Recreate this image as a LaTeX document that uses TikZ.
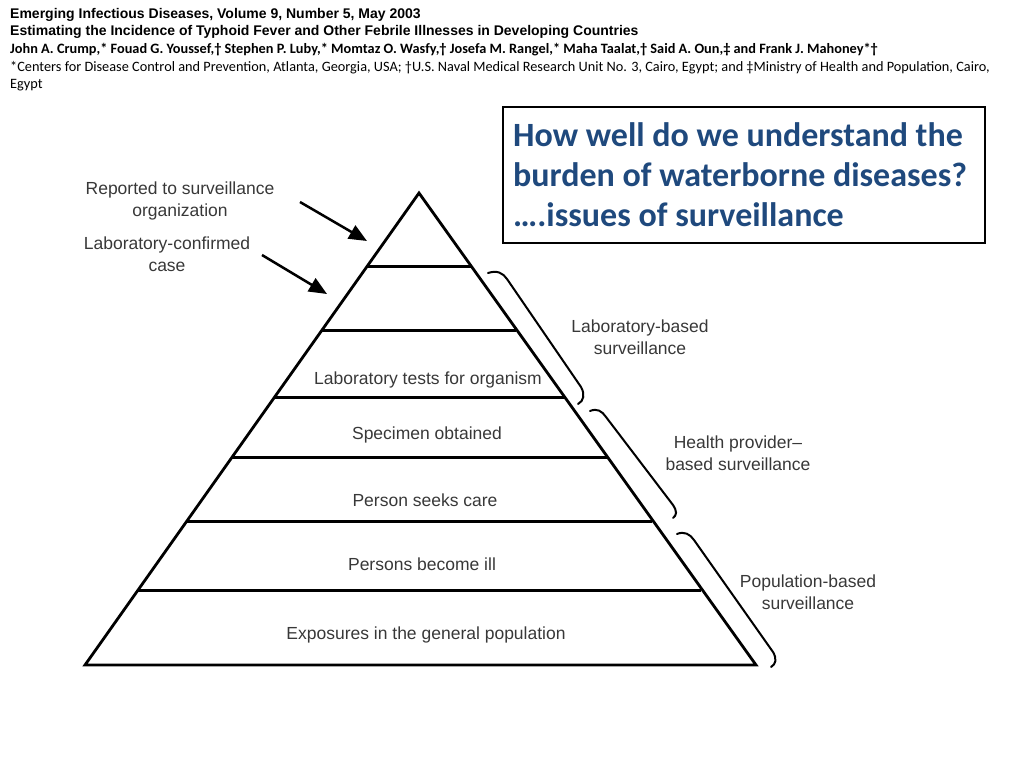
\documentclass[tikz,border=0pt]{standalone}
\usepackage{fontspec}
\setmainfont{Liberation Sans}
\newfontfamily\calibri{Carlito}
\usetikzlibrary{arrows.meta}
\definecolor{titleblue}{HTML}{1F497D}
\definecolor{labelgrey}{HTML}{383838}
\tikzset{
  head/.style={anchor=base west, inner sep=0pt},
  tier/.style={text=labelgrey, font=\fontsize{17.5}{22}\selectfont},
  side/.style={text=labelgrey, align=center, font=\fontsize{17.5}{22}\selectfont},
  level/.style={line width=3pt},
  pointer/.style={line width=2.5pt, -{Triangle[length=18pt,width=15pt]}},
  bracket/.style={line width=2pt, line cap=round}
}
\begin{document}
\begin{tikzpicture}[x=1pt,y=-1pt]
        \useasboundingbox (0,0) rectangle (1024,768);
        \node[head, font=\bfseries\fontsize{14}{16}\selectfont] (journal) at (10,19) {Emerging Infectious Diseases, Volume 9, Number 5, May 2003};
        \node[head, font=\bfseries\fontsize{14}{16}\selectfont] (article) at (10,36) {Estimating the Incidence of Typhoid Fever and Other Febrile Illnesses in Developing Countries};
        \node[head, font=\calibri\bfseries\fontsize{14.3}{16}\selectfont] (authors) at (10,53) {John A. Crump,* Fouad G. Youssef,† Stephen P. Luby,* Momtaz O. Wasfy,† Josefa M. Rangel,* Maha Taalat,† Said A. Oun,‡ and Frank J. Mahoney*†};
        \node[head, font=\calibri\fontsize{14.3}{16}\selectfont] (affil) at (10,71) {*Centers for Disease Control and Prevention, Atlanta, Georgia, USA; †U.S. Naval Medical Research Unit No. 3, Cairo, Egypt; and ‡Ministry of Health and Population, Cairo,};
        \node[head, font=\calibri\fontsize{14.3}{16}\selectfont] (affil2) at (10,88) {Egypt};

        \node[draw, line width=2pt, minimum width=482pt, minimum height=136pt, anchor=north west] (qbox) at (502,106) {};
        \node[anchor=west, align=left, inner sep=0pt, text=titleblue, font=\calibri\bfseries\fontsize{34}{40}\selectfont] (question) at (513,175) {How well do we understand the\\burden of waterborne diseases?\\….issues of surveillance};

        \coordinate (apex) at (419,193);
        \coordinate (bl) at (85,665);
        \coordinate (br) at (756,665);
        \draw[line width=2.8pt] (apex) -- (br) -- (bl) -- cycle;
        \draw[level] (367,266) -- (471,266);
        \draw[level] (322,330) -- (516,330);
        \draw[level] (275,397) -- (564,397);
        \draw[level] (232,457) -- (607,457);
        \draw[level] (187,521) -- (652,521);
        \draw[level] (138,590) -- (701,590);

        \node[tier] (labtests) at (428,380) {Laboratory tests for organism};
        \node[tier] (specimen) at (427,435) {Specimen obtained};
        \node[tier] (seekscare) at (425,500) {Person seeks care};
        \node[tier] (becomeill) at (422,564) {Persons become ill};
        \node[tier] (exposures) at (426,635) {Exposures in the general population};

        \node[side] (reported) at (180,201) {Reported to surveillance\\organization};
        \node[side] (confirmed) at (167,254) {Laboratory-confirmed\\case};
        \coordinate (reportedtail) at (300,202);
        \coordinate (reportedtip) at (367,241);
        \coordinate (confirmedtail) at (262,255);
        \coordinate (confirmedtip) at (327,294);
        \draw[pointer] (reportedtail) -- (reportedtip);
        \draw[pointer] (confirmedtail) -- (confirmedtip);

        \draw[bracket] (488,273) .. controls (497,270) and (503,273) .. (507,279) -- (581,387) .. controls (585,394) and (584,401) .. (578,404);
        \draw[bracket] (590,411) .. controls (597,408) and (602,411) .. (606,417) -- (673,505) .. controls (677,511) and (677,515) .. (673,518);
        \draw[bracket] (677,534) .. controls (684,531) and (690,534) .. (694,540) -- (773,652) .. controls (777,659) and (776,664) .. (771,667);

        \node[side] (labbased) at (640,337) {Laboratory-based\\surveillance};
        \node[side] (provider) at (738,453) {Health provider–\\based surveillance};
        \node[side] (population) at (808,592) {Population-based\\surveillance};
\end{tikzpicture}
\end{document}
